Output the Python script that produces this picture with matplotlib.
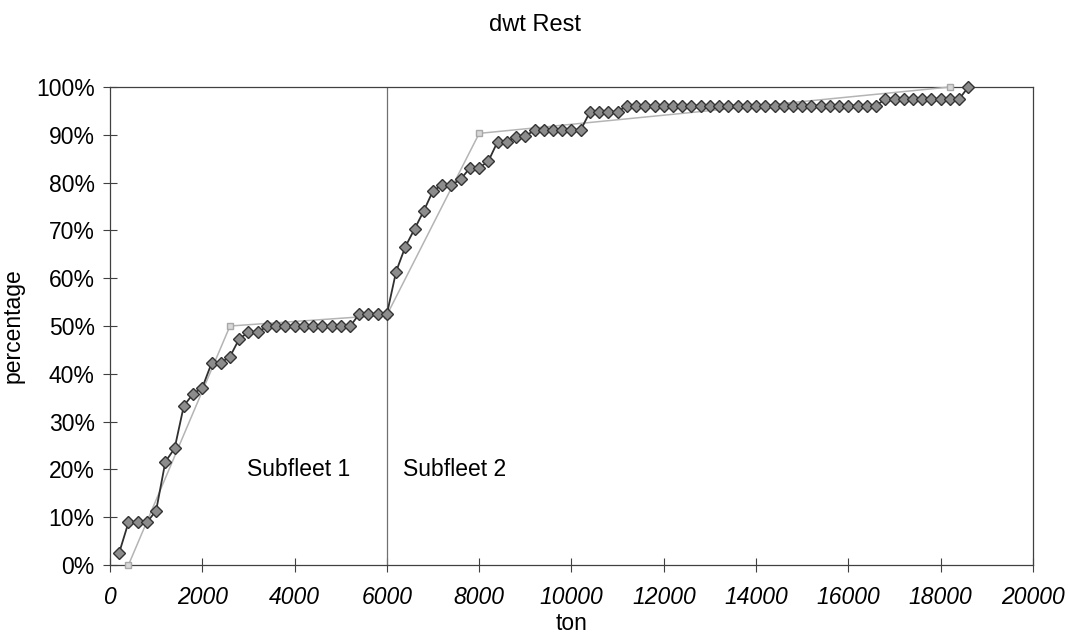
import matplotlib
matplotlib.use("Agg")
import matplotlib.pyplot as plt
from matplotlib.ticker import PercentFormatter, MultipleLocator

plt.rcParams['font.family'] = ['Liberation Sans', 'DejaVu Sans']

# Empirical cumulative distribution (dark series), 200-ton bins
dwt_bins = list(range(200, 18601, 200))
cum_pct = (
    [2.6, 8.9, 8.9, 8.9, 11.4, 21.6, 24.4, 33.3, 35.8, 37.1,      # 200..2000
     42.2, 42.3, 43.6, 47.3, 48.7, 48.7, 49.9, 49.9, 49.9, 49.9,  # 2200..4000
     49.9, 49.9, 49.9, 49.9, 49.9, 49.9, 52.5, 52.5, 52.5, 52.5,  # 4200..6000
     61.4, 66.6, 70.3, 74.1, 78.3, 79.5, 79.5, 80.7, 83.1, 83.1,  # 6200..8000
     84.5, 88.6, 88.6, 89.6, 89.7, 91.0, 91.0, 91.0, 91.0, 91.0,  # 8200..10000
     91.0, 94.8, 94.8, 94.8, 94.8, 96.1, 96.1, 96.1, 96.1, 96.1,  # 10200..12000
     96.1, 96.1, 96.1, 96.1, 96.1, 96.1, 96.1, 96.1, 96.1, 96.1,  # 12200..14000
     96.1, 96.1, 96.1, 96.1, 96.1, 96.1, 96.1, 96.1, 96.1, 96.1,  # 14200..16000
     96.1, 96.1, 96.1, 97.5, 97.5, 97.5, 97.5, 97.5, 97.5, 97.5,  # 16200..18000
     97.5, 97.5, 100.0]                                           # 18200..18600
)

# Fitted piecewise-linear model (light series)
model_dwt = [400, 2600, 6000, 8000, 18200]
model_pct = [0.0, 50.0, 52.3, 90.3, 100.0]

split_dwt = 6000
x_ticks = list(range(0, 20001, 2000))
title = "dwt Rest"
xlabel = "ton"
ylabel = "percentage"
labels = ["Subfleet 1", "Subfleet 2"]

fig = plt.figure(figsize=(10.7, 6.38), dpi=100)
ax = fig.add_axes([0.1028, 0.1144, 0.8626, 0.7492])

ax.plot(model_dwt, [v / 100 for v in model_pct], color='#b4b4b4', lw=1.1,
        marker='s', ms=5, mfc='#d8d8d8', mec='#a8a8a8', zorder=3, clip_on=False)
ax.plot(dwt_bins, [v / 100 for v in cum_pct], color='#303030', lw=1.3,
        marker='D', ms=6, mfc='#8c8c8c', mec='#333333', mew=1.0, zorder=4,
        clip_on=False)

ax.axvline(split_dwt, color='#707070', lw=0.9, zorder=2)

ax.set_xlim(0, 20000)
ax.set_ylim(0, 1)
ax.set_xticks(x_ticks)
ax.yaxis.set_major_locator(MultipleLocator(0.1))
ax.yaxis.set_major_formatter(PercentFormatter(1.0, decimals=0))
for lbl in ax.get_xticklabels():
    lbl.set_fontstyle('italic')

ax.tick_params(axis='both', direction='inout', length=10, width=0.8,
               labelsize=16.5, color='#404040')
ax.tick_params(axis='x', pad=10)
ax.tick_params(axis='y', pad=6)
for s in ax.spines.values():
    s.set_color('#404040')
    s.set_linewidth(0.9)

ax.text(2960, 0.20, labels[0], fontsize=16.5, ha='left', va='center')
ax.text(6350, 0.20, labels[1], fontsize=16.5, ha='left', va='center')

fig.text(0.5, 1 - 25 / 638, title, fontsize=17, ha='center', va='center')
ax.set_xlabel(xlabel, fontsize=16.5, labelpad=2)
ax.set_ylabel(ylabel, fontsize=16.5, labelpad=8)

fig.savefig("out.png", dpi=100)
